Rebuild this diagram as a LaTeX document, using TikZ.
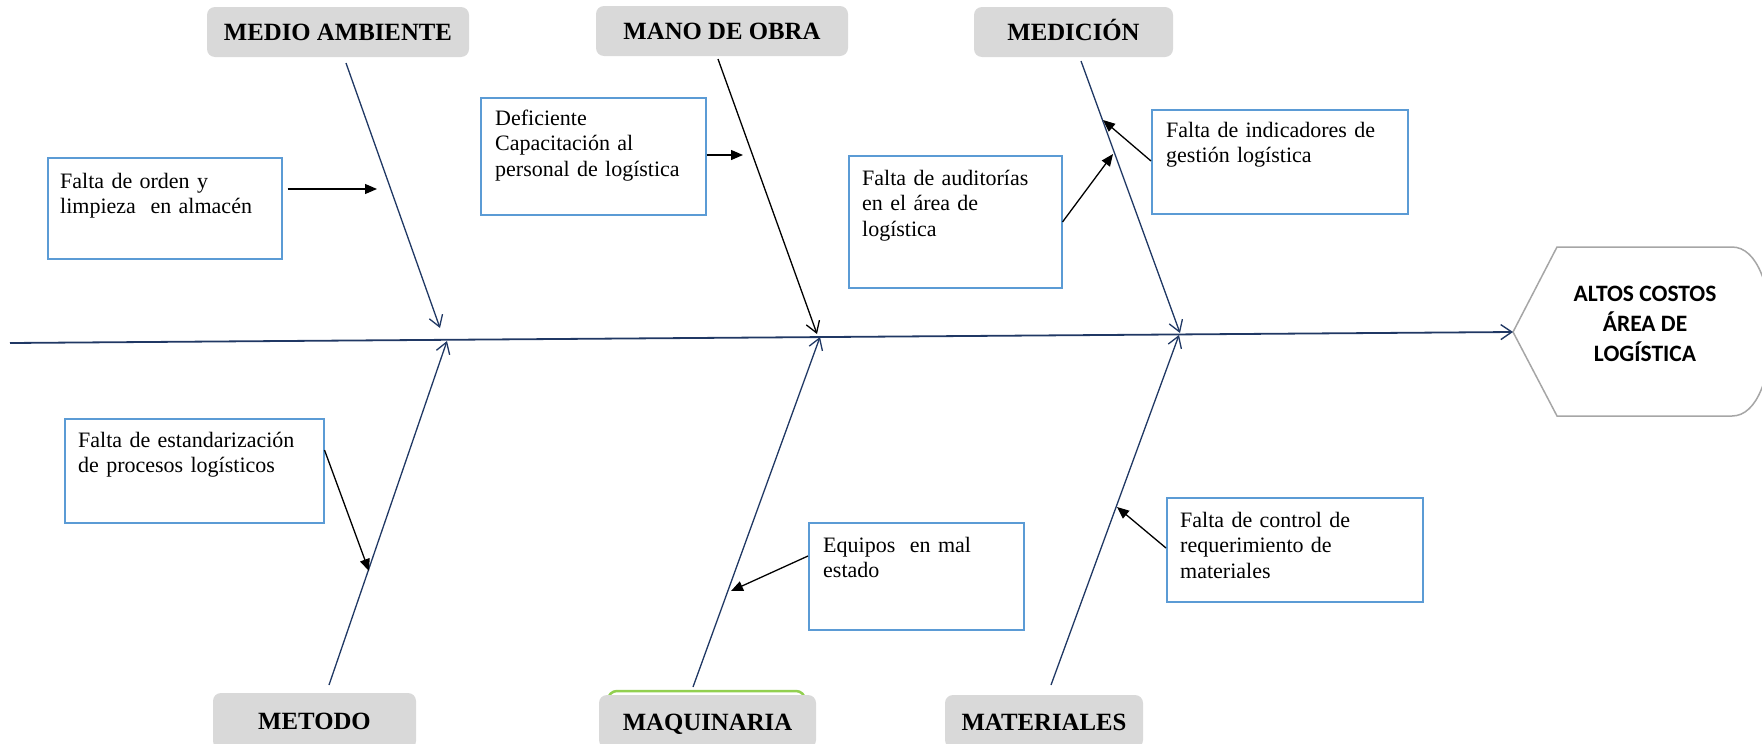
\documentclass[tikz,border=0pt]{standalone}
\usepackage{fontspec}
\setmainfont{Liberation Serif}
\newfontfamily\effectfont{Carlito}
\usetikzlibrary{arrows.meta,calc}

\definecolor{bonenavy}{RGB}{32,56,100}
\definecolor{boxblue}{RGB}{91,155,213}
\definecolor{catgray}{RGB}{217,217,217}
\definecolor{hexgray}{RGB}{166,166,166}
\definecolor{tabgreen}{RGB}{146,208,80}

\begin{document}
\begin{tikzpicture}[x=1pt,y=-1pt,
  category/.style={fill=catgray, rounded corners=8pt, inner sep=0pt,
    text height=17pt, text depth=0pt,
    font=\fontsize{24.8}{28}\selectfont\bfseries},
  causebox/.style={draw=boxblue, line width=1.5pt, fill=white,
    anchor=north west, inner sep=0pt},
  causetext/.style={anchor=base west, inner sep=0pt, align=left,
    text width=#1, font=\fontsize{22}{25.5}\selectfont},
  spine/.style={draw=bonenavy, line width=1.8pt,
    -{Straight Barb[length=11pt,width=15pt,line width=1.4pt]}},
  bone/.style={draw=bonenavy, line width=1.3pt,
    -{Straight Barb[length=11pt,width=14pt,line width=1.3pt]}},
  cause/.style={draw=black, line width=1.3pt,
    -{Triangle[length=12pt,width=10pt]}},
]
\useasboundingbox (0,0) rectangle (1762,744);

% ---------- effect head ----------
\coordinate (hexL) at (1513,332);
\draw[hexgray, line width=1.5pt, fill=white]
  (hexL) -- (1557,247) -- (1732,247)
  .. controls (1784,247) and (1784,416) .. (1732,416)
  -- (1557,416) -- cycle;
\node[align=center, inner sep=0pt,
      font=\effectfont\fontsize{23.5}{30}\selectfont\bfseries]
  (effect) at (1645,324) {ALTOS COSTOS\\ÁREA DE\\LOGÍSTICA};

% ---------- category labels ----------
\node[category, minimum width=262pt, minimum height=50pt] (ambiente) at (338,32) {MEDIO AMBIENTE};
\node[category, minimum width=252pt, minimum height=50pt] (obra) at (722,31) {MANO DE OBRA};
\node[category, minimum width=199pt, minimum height=50pt] (medicion) at (1073.5,32) {MEDICIÓN};
\node[category, minimum width=203pt, minimum height=56pt] (metodo) at (314.5,721) {METODO};
\draw[tabgreen, line width=2.5pt, fill=white, rounded corners=9pt] (608,691) rectangle (805,748);
\node[category, minimum width=217pt, minimum height=53pt] (maquinaria) at (707.5,721.5) {MAQUINARIA};
\node[category, minimum width=198pt, minimum height=53pt] (materiales) at (1044,721.5) {MATERIALES};

% ---------- cause boxes ----------
\node[causebox, minimum width=234pt, minimum height=101pt] (orden) at (47,157) {};
\node[causetext=215pt] (ordenT) at ($(orden.north west)+(13,31)$)
  {Falta de orden y\\limpieza\ \ en almacén};

\node[causebox, minimum width=225pt, minimum height=117pt] (capac) at (480,97) {};
\node[causetext=205pt] (capacT) at ($(capac.north west)+(15,28)$)
  {Deficiente\\Capacitación al\\personal de logística};

\node[causebox, minimum width=213pt, minimum height=132pt] (audit) at (848,155) {};
\node[causetext=195pt] (auditT) at ($(audit.north west)+(14,30)$)
  {Falta de auditorías\\en el área de\\logística};

\node[causebox, minimum width=256pt, minimum height=104pt] (indic) at (1151,109) {};
\node[causetext=235pt] (indicT) at ($(indic.north west)+(15,28)$)
  {\makebox[211pt][s]{Falta de indicadores de}\\gestión logística};

\node[causebox, minimum width=259pt, minimum height=104pt] (estand) at (64,418) {};
\node[causetext=240pt] (estandT) at ($(estand.north west)+(14,29)$)
  {Falta de estandarización\\de procesos logísticos};

\node[causebox, minimum width=215pt, minimum height=107pt] (equipos) at (808,522) {};
\node[causetext=195pt] (equiposT) at ($(equipos.north west)+(15,30)$)
  {Equipos\ \ en mal\\estado};

\node[causebox, minimum width=256pt, minimum height=104pt] (control) at (1166,497) {};
\node[causetext=235pt] (controlT) at ($(control.north west)+(14,30)$)
  {Falta de control de\\requerimiento de\\materiales};

% ---------- spine and bones ----------
\coordinate (tail) at (10,343);
\draw[spine] (tail) -- (hexL);

\coordinate (ambS) at (346,63);   \coordinate (ambT) at (440,328);
\coordinate (obrS) at (718,59);   \coordinate (obrT) at (817,334);
\coordinate (medS) at (1081,61);  \coordinate (medT) at (1180,333);
\coordinate (metS) at (329,685);  \coordinate (metT) at (447,341);
\coordinate (maqS) at (693,687);  \coordinate (maqT) at (820,337);
\coordinate (matS) at (1051,685); \coordinate (matT) at (1179,335);

\draw[bone] (ambS) -- (ambT);
\draw[bone, draw=black] (obrS) -- (obrT);
\draw[bone] (medS) -- (medT);
\draw[bone] (metS) -- (metT);
\draw[bone] (maqS) -- (maqT);
\draw[bone] (matS) -- (matT);

% ---------- cause arrows ----------
\coordinate (ordenA) at (377,189);
\coordinate (capacA) at (743,155);
\coordinate (auditA) at (1113,154);
\coordinate (indicA) at (1103,120);
\coordinate (estandA) at (369,571);
\coordinate (equiposA) at (731,591);
\coordinate (controlA) at (1117,507);

\draw[cause] ([xshift=5pt]orden.east |- 0,189) -- (ordenA);
\draw[cause] (capac.east |- 0,155) -- (capacA);
\draw[cause] (audit.east |- 0,222) -- (auditA);
\draw[cause] (indic.west |- 0,161) -- (indicA);
\draw[cause] (estand.east |- 0,450) -- (estandA);
\draw[cause] (equipos.west |- 0,556) -- (equiposA);
\draw[cause] (control.west |- 0,548) -- (controlA);
\end{tikzpicture}
\end{document}
